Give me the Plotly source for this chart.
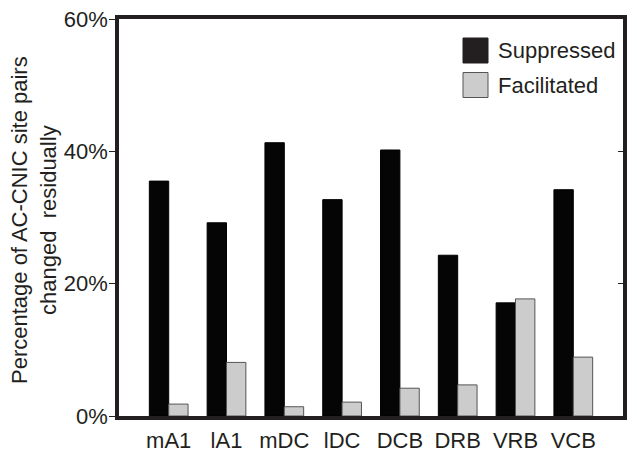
import plotly.graph_objects as go

categories = ["mA1", "lA1", "mDC", "lDC", "DCB", "DRB", "VRB", "VCB"]
suppressed = [35.5, 29.2, 41.3, 32.7, 40.2, 24.3, 17.1, 34.2]
facilitated = [1.8, 8.1, 1.4, 2.1, 4.2, 4.7, 17.7, 8.9]
tick_vals = [0, 20, 40, 60]
tick_text = ["0%", "20%", "40%", "60%"]
legend_names = ["Suppressed", "Facilitated"]
y_title = "Percentage of AC-CNIC site pairs<br>changed  residually"

FONT = "Liberation Sans, Arial, sans-serif"
FRAME = "#231f20"
OFF = 8  # page body margin in the browser
W, H = 637 - OFF, 452 - OFF
ML, MR, MT, MB = 119 - OFF, 14, 19 - OFF, 36
PW, PH = W - ML - MR, H - MT - MB


def px_x(p):
    return (p - OFF - ML) / PW


def px_y(p):
    return (H - MB - (p - OFF)) / PH


fig = go.Figure()
fig.add_trace(go.Bar(x=categories, y=suppressed, name=legend_names[0],
                     marker=dict(color="#050505", line=dict(color="#000000", width=1))))
fig.add_trace(go.Bar(x=categories, y=facilitated, name=legend_names[1],
                     marker=dict(color="#cccccc", line=dict(color="#555555", width=1))))
# invisible trace on a mirrored right axis for inward right-side ticks
fig.add_trace(go.Scatter(x=[categories[0]], y=[0], yaxis="y2", mode="markers",
                         marker=dict(opacity=0), showlegend=False, hoverinfo="skip"))

fig.update_layout(
    width=W, height=H,
    margin=dict(l=ML, r=MR, t=MT, b=MB, autoexpand=False),
    paper_bgcolor="white", plot_bgcolor="white",
    barmode="group", bargap=0.33, bargroupgap=0,
    showlegend=False,
    font=dict(family=FONT, size=22, color="#231f20"),
    xaxis=dict(range=[-0.86, 7.86], showline=True, linewidth=3.5, linecolor=FRAME,
               mirror=True, ticks="", showgrid=False, zeroline=False,
               tickfont=dict(size=22), automargin=False, ticklabeloverflow="allow",
               ticklabelstandoff=2),
    yaxis=dict(range=[0, 60], tickvals=tick_vals, ticktext=tick_text,
               showline=True, linewidth=3.5, linecolor=FRAME, mirror=True,
               ticks="outside", ticklen=6, tickwidth=1, tickcolor=FRAME,
               showgrid=False, zeroline=False, tickfont=dict(size=22),
               automargin=False, ticklabeloverflow="allow", ticklabelstandoff=-3),
    yaxis2=dict(range=[0, 60], overlaying="y", side="right", tickvals=tick_vals,
                showticklabels=False, ticks="inside", ticklen=5, tickwidth=1,
                tickcolor=FRAME, showgrid=False, zeroline=False, showline=False,
                automargin=False),
)

# y-axis title
fig.add_annotation(xref="paper", yref="paper", x=px_x(34), y=px_y(220),
                   text=y_title, textangle=-90, showarrow=False,
                   xanchor="center", yanchor="middle",
                   font=dict(size=22, family=FONT, color="#231f20"))

# Legend drawn as swatches + text (large square swatches as in the reference)
legend_colors = [("#231f20", "#231f20"), ("#cccccc", "#555555")]
sw_top = [38, 72.5]
for i, name in enumerate(legend_names):
    fig.add_shape(type="rect", xref="paper", yref="paper",
                  x0=px_x(463), x1=px_x(488), y0=px_y(sw_top[i] + 25), y1=px_y(sw_top[i]),
                  fillcolor=legend_colors[i][0], line=dict(color=legend_colors[i][1], width=1))
    fig.add_annotation(xref="paper", yref="paper", x=px_x(496), y=px_y(sw_top[i] + 12.5),
                       text=name, showarrow=False, xanchor="left", yanchor="middle",
                       font=dict(size=22, family=FONT, color="#231f20"))

fig.write_html("out.html")
